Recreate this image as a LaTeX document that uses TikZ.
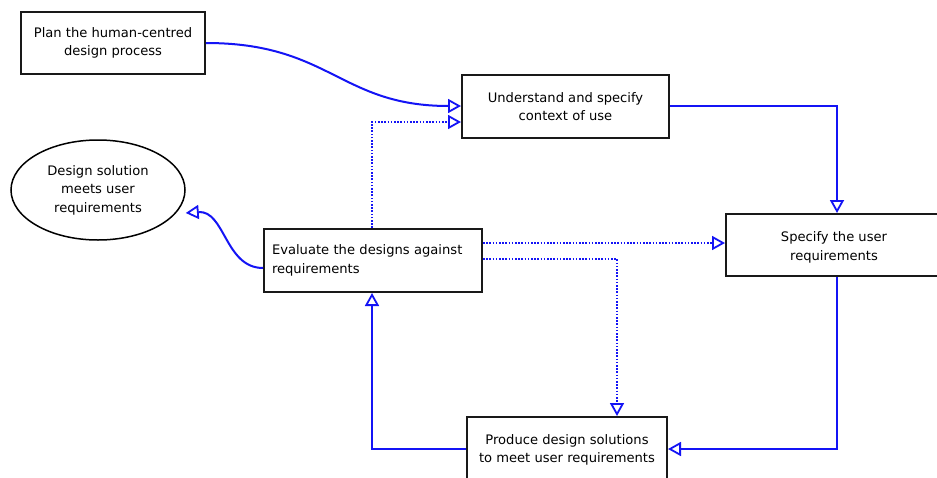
\documentclass[tikz,border=0pt]{standalone}
\usepackage{fontspec}
\setmainfont{DejaVu Sans}
\usetikzlibrary{arrows.meta,shapes.geometric}
\definecolor{flow}{RGB}{20,20,245}
\tikzset{
  x=1pt, y=-1pt,
  label font/.style={font=\fontsize{13.1}{18.5}\selectfont},
  stepbox/.style={draw=black!90, line width=2pt, fill=white, inner sep=0pt, label font},
  link/.style={draw=flow, line width=2pt, -{Triangle[open, length=13pt, width=14pt, line width=1.8pt]}},
  weak/.style={link, dash pattern=on 1.6pt off 1.6pt},
}
\begin{document}
\begin{tikzpicture}
\useasboundingbox (0,0) rectangle (937,477);
\fill[white] (0,0) rectangle (937,477);

% process steps
\node[stepbox, minimum width=184pt, minimum height=62pt, align=center] (plan) at (113,43)
  {Plan the human-centred\\design process};
\node[stepbox, minimum width=207pt, minimum height=63pt, align=center] (ctx) at (565.5,106.5)
  {Understand and specify\\context of use};
\node[stepbox, minimum width=218pt, minimum height=63pt, align=left, text width=202pt] (eval) at (373,260.5)
  {Evaluate the designs against\\requirements};
\node[stepbox, minimum width=224pt, minimum height=62pt] (spec) at (838,245) {};
\node[label font, align=center, inner sep=0pt] (spectext) at (834,247.5)
  {Specify the user\\requirements};
\node[stepbox, minimum width=200pt, minimum height=66pt, align=center] (prod) at (567,450)
  {Produce design solutions\\to meet user requirements};
\node[ellipse, draw=black, line width=1.5pt, minimum width=174pt, minimum height=100pt,
      inner sep=0pt, align=center, label font] (done) at (98,190)
  {Design solution\\meets user\\requirements};

% junction points of the routed links
\coordinate (c1) at (837,106);
\coordinate (c2) at (372,122);
\coordinate (c3) at (617,259);
\coordinate (c4) at (837,449);
\coordinate (c5) at (372,449);

% solid flow
\draw[link] (plan.east |- 0,43) .. controls (330,43) and (340,106) .. (ctx.west |- 0,106);
\draw[link] (ctx.east |- c1) -- (c1) -- (spec.north -| c1);
\draw[link] (spec.south -| c4) -- (c4) -- (prod.east |- c4);
\draw[link] (prod.west |- c5) -- (c5) -- (eval.south -| c5);
\draw[link] (eval.west |- 0,268) .. controls (225,268) and (225,210) .. (done.east |- 0,213);

% dotted feedback
\draw[weak] (eval.north -| c2) -- (c2) -- (ctx.west |- c2);
\draw[weak] (eval.east |- 0,243) -- (spec.west |- 0,243);
\draw[weak] (eval.east |- c3) -- (c3) -- (prod.north -| c3);
\end{tikzpicture}
\end{document}
